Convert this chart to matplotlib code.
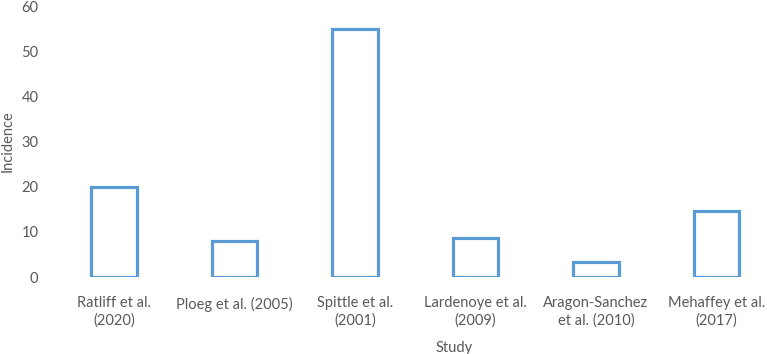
import matplotlib.pyplot as plt

studies = ['Ratliff et al.\n(2020)', 'Ploeg et al. (2005)', 'Spittle et al.\n(2001)',
           'Lardenoye et al.\n(2009)', 'Aragon-Sanchez\net al. (2010)', 'Mehaffey et al.\n(2017)']
incidence = [20, 8, 55, 8.7, 3.3, 14.7]

grey = '#595959'
plt.rcParams['font.family'] = ['Lato', 'DejaVu Sans']

fig = plt.figure(figsize=(7.67, 3.54), dpi=100)
ax = fig.add_axes([0.07, 0.2175, 0.93, 0.7655])

x = range(len(studies))
ax.bar(x, incidence, width=0.38, facecolor='white', edgecolor='#5B9BD5', linewidth=2.3)

ax.set_xlim(-0.5, 5.42)
ax.set_ylim(0, 60)
ax.set_yticks(range(0, 61, 10))
ax.set_xticks(list(x))
ax.set_xticklabels(studies, color=grey, fontsize=10.5, linespacing=1.3)
ax.tick_params(axis='y', colors=grey, labelsize=10.5, length=0, pad=11)
ax.tick_params(axis='x', length=0, pad=14)
for s in ax.spines.values():
    s.set_visible(False)

ax.set_ylabel('Incidence', color=grey, fontsize=10.5)
ax.yaxis.set_label_coords(-0.055, 0.5)
ax.set_xlabel('Study', color=grey, fontsize=10.5)
ax.xaxis.set_label_coords(400 / 713, -0.235)

fig.savefig('out.png')
